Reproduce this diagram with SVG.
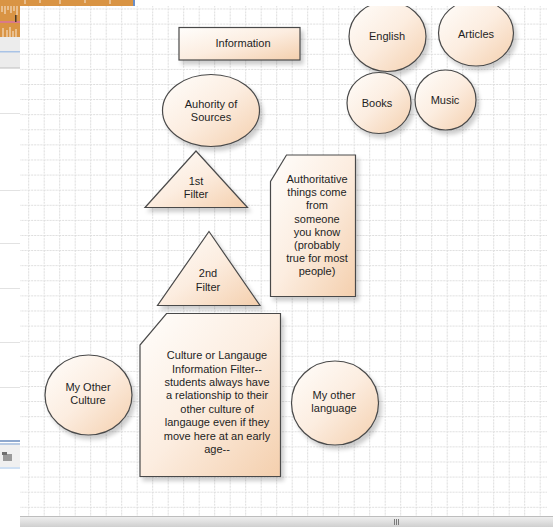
<svg xmlns="http://www.w3.org/2000/svg" width="553" height="527" viewBox="0 0 553 527">
  <defs>
    <pattern id="grid" x="28.2" y="23.6" width="15.5" height="15.1" patternUnits="userSpaceOnUse">
      <path d="M0.5 0 V15.1 M0 0.5 H15.5" fill="none" stroke="#dcdcdc" stroke-width="1" stroke-dasharray="2 1"/>
    </pattern>
    <linearGradient id="peach" x1="0" y1="0" x2="1" y2="1">
      <stop offset="0" stop-color="#fffefc"/>
      <stop offset="0.5" stop-color="#fcede0"/>
      <stop offset="1" stop-color="#f4cfad"/>
    </linearGradient>
    <linearGradient id="scroll" x1="0" y1="0" x2="0" y2="1">
      <stop offset="0" stop-color="#f2f2f2"/>
      <stop offset="1" stop-color="#cfcfcf"/>
    </linearGradient>
    <filter id="shadow" x="-20%" y="-20%" width="150%" height="150%">
      <feGaussianBlur in="SourceAlpha" stdDeviation="2"/>
      <feOffset dx="3" dy="4" result="b"/>
      <feComponentTransfer><feFuncA type="linear" slope="0.2"/></feComponentTransfer>
      <feMerge><feMergeNode/><feMergeNode in="SourceGraphic"/></feMerge>
    </filter>
  </defs>
  <style>
    .shape { fill: url(#peach); stroke: #4a4a4a; stroke-width: 1.2; filter: url(#shadow); }
    .label { font-family: "Liberation Sans", Arial, sans-serif; font-size: 11px; fill: #1e1e1e; text-anchor: middle; }
  </style>

  <!-- window chrome -->
  <rect x="0" y="0" width="553" height="527" fill="#ffffff"/>
  <g id="chrome">
    <!-- waveform strip -->
    <rect x="0" y="0" width="133" height="6" fill="#d99444"/>
    <rect x="0" y="6" width="20" height="31" fill="#d99444"/>
    <path d="M2 6 V12 M5 6 V14 M8 6 V10 M11 6 V13 M14 6 V11 M17 6 V15 M3 28 V37 M7 30 V37 M10 27 V37 M13 31 V37 M16 29 V37 M25 0 V4 M40 0 V3 M60 0 V4 M85 0 V3 M110 0 V4" stroke="#f3dcc0" stroke-width="1.2"/>
    <rect x="0" y="21" width="20" height="2" fill="#d97a8a"/>
    <rect x="15" y="15" width="1.5" height="7" fill="#4a3a2a"/>
    <rect x="133" y="0" width="2" height="6" fill="#6a8fc8"/>
    <!-- side panel -->
    <rect x="0" y="37" width="20" height="31" fill="#ececec"/>
    <rect x="0" y="51" width="20" height="1.5" fill="#a9c3e6"/>
    <rect x="0" y="67.5" width="20" height="1" fill="#bdbdbd"/>
    <path d="M0 113.5 H20 M0 190.5 H20 M0 243.5 H20 M0 288.5 H20 M0 342.5 H20 M0 387.5 H20" stroke="#e2e2e2" stroke-width="1"/>
    <rect x="0" y="440" width="20" height="2" fill="#8fa9cf"/>
    <rect x="0" y="443" width="20" height="2" fill="#b9cbe3"/>
    <rect x="0" y="445" width="20" height="22" fill="#f0f0f0"/>
    <rect x="3" y="454" width="9" height="7" fill="#9a9a9a"/>
    <rect x="2" y="452" width="5" height="3" fill="#6f6f6f"/>
    <rect x="0" y="467" width="20" height="2" fill="#cfe0f3"/>
  </g>

  <!-- canvas -->
  <rect x="20" y="6" width="527" height="510" fill="#ffffff"/>
  <rect x="20" y="6" width="527" height="510" fill="url(#grid)"/>

  <g id="scrollbar">
    <rect x="20" y="516" width="533" height="11" fill="url(#scroll)"/>
    <line x1="20" y1="516.5" x2="553" y2="516.5" stroke="#bdbdbd"/>
    <path d="M394.5 519 V525 M396.5 519 V525 M398.5 519 V525" stroke="#7a7a7a" stroke-width="1"/>
  </g>

  <g id="connectors"></g>

  <svg x="20" y="6" width="527" height="510" viewBox="20 6 527 510" overflow="hidden">
    <g id="information">
      <rect class="shape" x="179" y="27.5" width="121" height="32.5"/>
      <text class="label" x="243" y="47">Information</text>
    </g>
    <g id="english">
      <ellipse class="shape" cx="387.5" cy="36.5" rx="38.5" ry="35"/>
      <text class="label" x="387" y="40">English</text>
    </g>
    <g id="articles">
      <ellipse class="shape" cx="476" cy="33" rx="37.5" ry="33"/>
      <text class="label" x="476" y="38">Articles</text>
    </g>
    <g id="books">
      <ellipse class="shape" cx="379" cy="103" rx="32" ry="30.5"/>
      <text class="label" x="377" y="107">Books</text>
    </g>
    <g id="music">
      <ellipse class="shape" cx="445.5" cy="100" rx="30.5" ry="30"/>
      <text class="label" x="445" y="104">Music</text>
    </g>
    <g id="authority">
      <ellipse class="shape" cx="211" cy="110.5" rx="48.5" ry="36"/>
      <text class="label" x="211" y="108">Auhority of</text>
      <text class="label" x="211" y="121">Sources</text>
    </g>
    <g id="filter1">
      <polygon class="shape" points="196,151 247.5,207.5 145,207.5"/>
      <text class="label" x="196" y="185">1st</text>
      <text class="label" x="196" y="198">Filter</text>
    </g>
    <g id="filter2">
      <polygon class="shape" points="209,231.5 260,305.5 157.5,305.5"/>
      <text class="label" x="208" y="277">2nd</text>
      <text class="label" x="208" y="291">Filter</text>
    </g>
    <g id="authoritative-note">
      <polygon class="shape" points="286.5,155 355.5,155 355.5,296.5 270.5,296.5 270.5,181.5"/>
      <text class="label" x="317" y="183">Authoritative</text>
      <text class="label" x="317" y="196">things come</text>
      <text class="label" x="317" y="209">from</text>
      <text class="label" x="317" y="222.5">someone</text>
      <text class="label" x="317" y="235.5">you know</text>
      <text class="label" x="317" y="248.5">(probably</text>
      <text class="label" x="317" y="262">true for most</text>
      <text class="label" x="317" y="275">people)</text>
    </g>
    <g id="culture-note">
      <polygon class="shape" points="166.5,313.5 280.5,313.5 280.5,476.5 140,476.5 140,345"/>
      <text class="label" x="217" y="359">Culture or Langauge</text>
      <text class="label" x="217" y="372.5">Information Filter--</text>
      <text class="label" x="217" y="386">students always have</text>
      <text class="label" x="217" y="399">a relationship to their</text>
      <text class="label" x="217" y="412.5">other culture of</text>
      <text class="label" x="217" y="426">langauge even if they</text>
      <text class="label" x="217" y="440">move here at an early</text>
      <text class="label" x="217" y="453">age--</text>
    </g>
    <g id="other-culture">
      <ellipse class="shape" cx="88.5" cy="395" rx="43.5" ry="40"/>
      <text class="label" x="88" y="391">My Other</text>
      <text class="label" x="88" y="404">Culture</text>
    </g>
    <g id="other-language">
      <ellipse class="shape" cx="335" cy="403" rx="43.5" ry="42"/>
      <text class="label" x="334" y="399">My other</text>
      <text class="label" x="334" y="412">language</text>
    </g>
  </svg>
</svg>
